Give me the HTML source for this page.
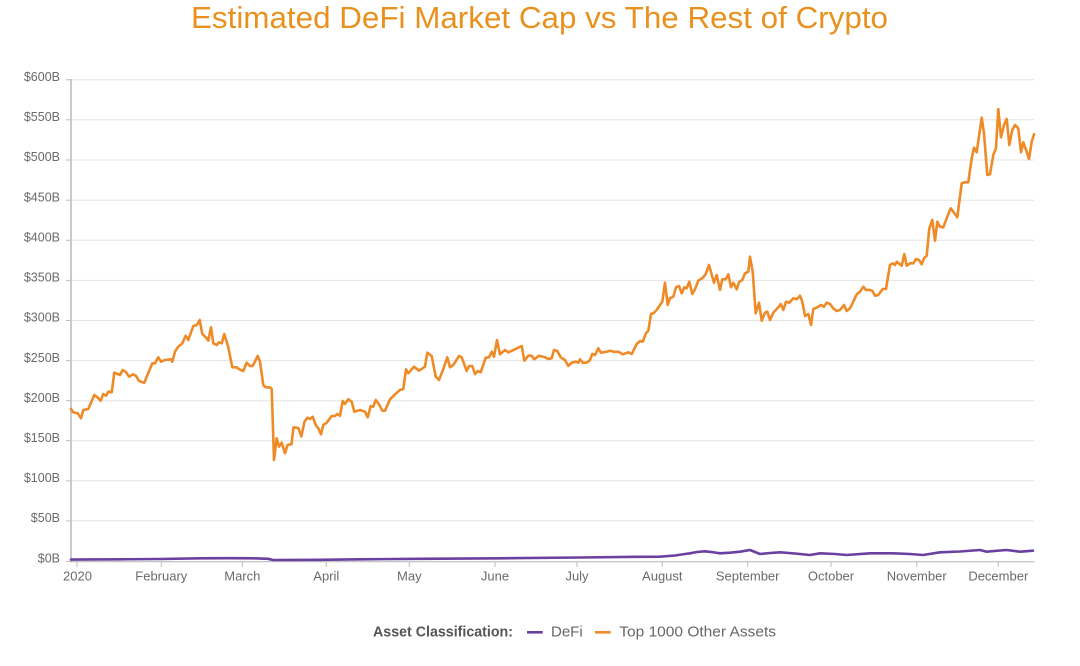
<!DOCTYPE html>
<html>
<head>
<meta charset="utf-8">
<style>
  html, body { margin: 0; padding: 0; background: #ffffff; }
  body { width: 1080px; height: 666px; overflow: hidden; }
  svg { display: block; }
  text { font-family: "Liberation Sans", sans-serif; }
</style>
</head>
<body>
<svg width="1080" height="666" viewBox="0 0 1080 666" xmlns="http://www.w3.org/2000/svg">
  <rect x="0" y="0" width="1080" height="666" fill="#ffffff"/>

  <!-- Title -->
  <text x="191" y="28" font-size="31" fill="#E9911F" textLength="697" lengthAdjust="spacingAndGlyphs">Estimated DeFi Market Cap vs The Rest of Crypto</text>

  <!-- Gridlines -->
  <g stroke="#e4e4e4" stroke-width="1">
    <line x1="71" y1="79.8" x2="1034" y2="79.8"/>
    <line x1="71" y1="119.8" x2="1034" y2="119.8"/>
    <line x1="71" y1="160" x2="1034" y2="160"/>
    <line x1="71" y1="200.2" x2="1034" y2="200.2"/>
    <line x1="71" y1="240.3" x2="1034" y2="240.3"/>
    <line x1="71" y1="280.4" x2="1034" y2="280.4"/>
    <line x1="71" y1="320.5" x2="1034" y2="320.5"/>
    <line x1="71" y1="360.6" x2="1034" y2="360.6"/>
    <line x1="71" y1="400.7" x2="1034" y2="400.7"/>
    <line x1="71" y1="440.7" x2="1034" y2="440.7"/>
    <line x1="71" y1="480.8" x2="1034" y2="480.8"/>
    <line x1="71" y1="520.9" x2="1034" y2="520.9"/>
  </g>

  <!-- Y tick marks -->
  <g stroke="#bdbdbd" stroke-width="1">
    <line x1="66" y1="79.8" x2="71" y2="79.8"/>
    <line x1="66" y1="119.8" x2="71" y2="119.8"/>
    <line x1="66" y1="160" x2="71" y2="160"/>
    <line x1="66" y1="200.2" x2="71" y2="200.2"/>
    <line x1="66" y1="240.3" x2="71" y2="240.3"/>
    <line x1="66" y1="280.4" x2="71" y2="280.4"/>
    <line x1="66" y1="320.5" x2="71" y2="320.5"/>
    <line x1="66" y1="360.6" x2="71" y2="360.6"/>
    <line x1="66" y1="400.7" x2="71" y2="400.7"/>
    <line x1="66" y1="440.7" x2="71" y2="440.7"/>
    <line x1="66" y1="480.8" x2="71" y2="480.8"/>
    <line x1="66" y1="520.9" x2="71" y2="520.9"/>
    <line x1="66" y1="561.5" x2="71" y2="561.5"/>
  </g>

  <!-- Y labels -->
  <g font-size="12.5" fill="#6a6a6a" text-anchor="end">
    <text x="60" y="81">$600B</text>
    <text x="60" y="121">$550B</text>
    <text x="60" y="161.2">$500B</text>
    <text x="60" y="201.4">$450B</text>
    <text x="60" y="241.5">$400B</text>
    <text x="60" y="281.6">$350B</text>
    <text x="60" y="321.7">$300B</text>
    <text x="60" y="361.8">$250B</text>
    <text x="60" y="401.9">$200B</text>
    <text x="60" y="441.9">$150B</text>
    <text x="60" y="482">$100B</text>
    <text x="60" y="522.1">$50B</text>
    <text x="60" y="562.5">$0B</text>
  </g>

  <!-- Axes -->
  <line x1="71" y1="79" x2="71" y2="562.5" stroke="#bdbdbd" stroke-width="1.6"/>
  <line x1="70.5" y1="561.7" x2="1034.5" y2="561.7" stroke="#bdbdbd" stroke-width="1.2"/>

  <!-- X ticks -->
  <g stroke="#bdbdbd" stroke-width="1">
    <line x1="77" y1="561.7" x2="77" y2="567"/>
    <line x1="161.3" y1="561.7" x2="161.3" y2="567"/>
    <line x1="242.3" y1="561.7" x2="242.3" y2="567"/>
    <line x1="326.3" y1="561.7" x2="326.3" y2="567"/>
    <line x1="409.3" y1="561.7" x2="409.3" y2="567"/>
    <line x1="495" y1="561.7" x2="495" y2="567"/>
    <line x1="577" y1="561.7" x2="577" y2="567"/>
    <line x1="662.3" y1="561.7" x2="662.3" y2="567"/>
    <line x1="747.7" y1="561.7" x2="747.7" y2="567"/>
    <line x1="831" y1="561.7" x2="831" y2="567"/>
    <line x1="916.7" y1="561.7" x2="916.7" y2="567"/>
    <line x1="998.3" y1="561.7" x2="998.3" y2="567"/>
  </g>

  <!-- X labels -->
  <g font-size="13" fill="#6a6a6a" text-anchor="middle">
    <text x="77.5" y="580.5">2020</text>
    <text x="161.3" y="580.5">February</text>
    <text x="242.3" y="580.5">March</text>
    <text x="326.3" y="580.5">April</text>
    <text x="409.3" y="580.5">May</text>
    <text x="495" y="580.5">June</text>
    <text x="577" y="580.5">July</text>
    <text x="662.3" y="580.5">August</text>
    <text x="747.7" y="580.5">September</text>
    <text x="831" y="580.5">October</text>
    <text x="916.7" y="580.5">November</text>
    <text x="998.3" y="580.5">December</text>
  </g>

  <!-- DeFi series -->
  <polyline fill="none" stroke="#6A41A0" stroke-width="2.6" stroke-linejoin="round" stroke-linecap="round"
    points="71,559.6 120,559.3 160,559 200,558.3 230,558.2 253,558.3 268,558.8 273,560 320,559.8 360,559.3 420,558.8 500,558.3 580,557.5 640,556.8 660,556.7 675,555.5 685,554 690,553.3 697,552 705,551.3 715,552.5 720,553.3 730,552.7 740,551.7 750,550 755,552 760,554 770,553 780,552.3 795,553.5 810,555 820,553.3 835,554 846.7,555 870,553.3 893,553.3 910,554 923,555 940,552.3 960,551.5 980,550 986.7,551.7 1000,550.5 1006.7,550 1020,551.7 1033,550.7"/>

  <!-- Top 1000 Other Assets series -->
  <polyline fill="none" stroke="#EE8B27" stroke-width="2.6" stroke-linejoin="round" stroke-linecap="round"
    points="71,409 73.3,412.3 77.7,413.3 81,418.3 83.3,410 88.3,409 94.3,395 96.7,396.7 100.7,400.7 103.3,394 106,395.7 108.3,391.7 111.7,392.3 114.3,372.7 120,375 122.7,370 125.7,371.7 129,376.7 133.3,374.3 136,376 139,381 144.3,382.7 152.3,363.3 155,363.3 158.3,357.3 161,361.7 165,360 171,359.3 172.3,361.7 175,351.7 177.7,347.3 182.3,343.3 185.7,335.7 188.3,340 193.3,326 196.7,325 199.7,320 202.3,334 206.7,338.3 208.3,340.7 211,327.3 213.3,343.3 216.7,345 219,342.3 221.7,343.3 224.3,334 228.3,347.3 232.3,367.3 236.7,367.3 239.3,369.3 243.3,371 246.7,362.7 250,366 252.7,366 257.7,356 260,361.7 263.3,385 265.7,387.3 270,387.3 271.7,389 274,460 276.7,438.3 279,446.7 281.7,442.7 285,453.3 287.5,445 291.5,444.2 293.5,427.3 298.3,428 301.3,436.5 304.5,421.7 307.3,417.7 310,419 312.7,416.7 315.7,425 318.3,428.3 321,434.3 323.3,425 326.7,422.7 331.7,416 335,416 337.3,414 340,415.7 342.7,401 345,404 348.3,399.3 351.7,401.7 354.3,411.7 360,410 365,411.7 367.7,417.3 370.7,406 373.3,406.7 375.7,400 379,404.3 382.3,410.7 385,410.7 390,399.3 395,394.3 400,390 403.3,389 406,369.3 408.3,373.3 414,366.7 419,370.7 425,366.7 427.3,352.7 431.7,356 435.7,376.7 439,380 443.3,369 447.3,357.3 450,367.3 453.3,365 459,356 461.7,357.3 466.7,371 469,366 472.3,366 475,374 477.7,371 480.7,372.3 485.7,357.7 489,357.3 491.7,351.7 494,356.7 497,340 500,354.3 505,350 508.3,352.3 515,349.3 521.7,346 524.3,360.7 528.3,355.7 531.7,355.7 534.3,359.3 539,355.7 545,357.3 548.3,359 551.7,358.3 554,350 557.3,351 560.7,357.3 565,360 568.3,366 571.7,362.7 576,361.7 578.3,362.7 580,359.3 582.7,362.7 586.7,362.7 590,360 592.3,354 595,355 598.3,348.3 601,352.7 606.7,351.7 610,350.7 615,352 618.3,351.7 622.7,354.3 628.3,352.3 631.7,354 636.7,344 640,341 642.7,341.7 646,333.3 648.3,330.7 651,314 653.3,313.3 656.7,310 660,305 662.3,301.7 665,282.7 667.7,305 670,298.3 673.3,296.7 676,287.3 679,286 681.7,293.3 684.3,287.3 686.7,288.3 689.3,281.7 692.3,294 695,289.3 698.3,280.7 703.3,277.3 705.7,274 709,265 714,282.7 716.7,275 720,290 722.3,279.3 725.7,279.3 728.3,274.3 731,287.3 733.3,282.7 736.7,289.3 739.3,281.7 742.3,280 745,273.3 748.3,271.7 750,256.7 752.7,271.7 755.7,313.3 759,302.7 761.7,320.7 765,312.7 767.3,311.7 770,320 773.3,312.7 778.3,307.3 780.7,304 783.3,310 786,301.7 789.3,302.7 793.3,298.3 796.7,299.3 800,295.7 802.3,301.7 805,316 808.3,314 811,325 813.3,309 817.3,307.3 821,305 824,306.7 826.7,302.7 830,304 833.3,308.3 836.7,311 840,310 844,305 846.7,311 850,308.3 853.3,301.7 856.7,294.3 860,291.7 863.3,286.7 866,290 870,290 872.3,290.7 875,295.7 878.3,295 882.7,289 886,289 890,265 892.7,263.3 895,265 896.7,261.7 901.7,265.7 904.3,254 906.7,265.7 910,263.3 913.3,263.3 916,259 919,260 921.7,264.3 924,258.3 926.7,255.7 929.3,228.3 932.3,220 935,240.7 937.3,221.7 940,226.7 943.3,227.3 946.7,218.3 950.7,208.3 953.3,211.7 957.3,217.3 961.7,183.3 965,182.3 968.3,182.3 971.7,158.3 974,147.7 976.7,152.3 981.7,117.7 984,133.3 987.3,175 990,174.3 993.3,155 996,148.3 998.3,109 1001,137.3 1004,125 1006.7,119 1009.3,145 1012.3,130 1015,125 1018.3,128.3 1021,152.3 1023.3,142.3 1026.7,151.7 1029,159 1031.7,141.7 1034,134.3"/>

  <!-- Legend -->
  <text x="373" y="636.5" font-size="14.5" font-weight="bold" fill="#555555" textLength="140" lengthAdjust="spacingAndGlyphs">Asset Classification:</text>
  <line x1="527" y1="632.3" x2="542.7" y2="632.3" stroke="#6A41A0" stroke-width="2.6"/>
  <text x="551" y="636.5" font-size="14.5" fill="#666666" textLength="31.7" lengthAdjust="spacingAndGlyphs">DeFi</text>
  <line x1="595" y1="632.3" x2="610.7" y2="632.3" stroke="#EE8B27" stroke-width="2.6"/>
  <text x="619.3" y="636.5" font-size="14.5" fill="#666666" textLength="156.7" lengthAdjust="spacingAndGlyphs">Top 1000 Other Assets</text>
</svg>
</body>
</html>
